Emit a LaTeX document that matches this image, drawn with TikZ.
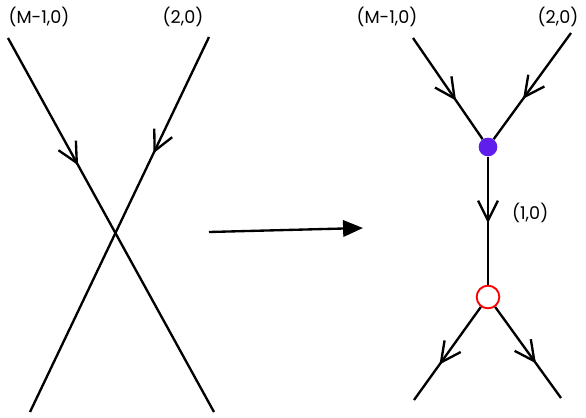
\documentclass[tikz,border=0pt]{standalone}
\usepackage{fontspec}
\setmainfont{Poppins}
\usetikzlibrary{arrows.meta,decorations.markings}
\tikzset{
 leg/.style={line width=2pt,postaction={decorate},decoration={markings,
   mark=at position #1 with {\arrow{Straight Barb[length=17pt,width=17pt,line width=2pt]}}}},
 lbl/.style={font=\fontsize{15}{17}\selectfont},
}
\begin{document}
\begin{tikzpicture}[x=0.03cm,y=-0.03cm]
 \useasboundingbox (0,0) rectangle (586,417);
 % before
 \node[lbl] (la) at (39,17) {(M-1,0)};
 \node[lbl] (lb) at (183,17) {(2,0)};
 \coordinate (a1) at (8,38);   \coordinate (a2) at (214,412);
 \coordinate (b1) at (209,37); \coordinate (b2) at (30,412);
 \draw[leg=0.34] (a1) -- (a2);
 \draw[leg=0.31] (b1) -- (b2);
 % map
 \coordinate (m1) at (209,232); \coordinate (m2) at (363,228);
 \draw[line width=2pt,-{Triangle[length=17pt,width=14pt]}] (m1) -- (m2);
 % after
 \node[lbl] (ra) at (387,17) {(M-1,0)};
 \node[lbl] (rb) at (558,17) {(2,0)};
 \node[circle,fill={rgb,255:red,95;green,30;blue,235},inner sep=0pt,minimum size=0.56cm] (top) at (488,147) {};
 \node[circle,draw=red,fill=white,line width=1.6pt,inner sep=0pt,minimum size=0.68cm] (bot) at (488,297) {};
 \node[lbl,anchor=west] (lc) at (508,213) {(1,0)};
 \coordinate (c1) at (413,38);  \coordinate (c2) at (571,33);
 \coordinate (d1) at (414,400); \coordinate (d2) at (561,398);
 \draw[leg=0.62] (c1) -- (top);
 \draw[leg=0.62] (c2) -- (top);
 \draw[leg=0.52] (top) -- (bot);
 \draw[leg=0.62] (bot) -- (d1);
 \draw[leg=0.62] (bot) -- (d2);
\end{tikzpicture}
\end{document}
